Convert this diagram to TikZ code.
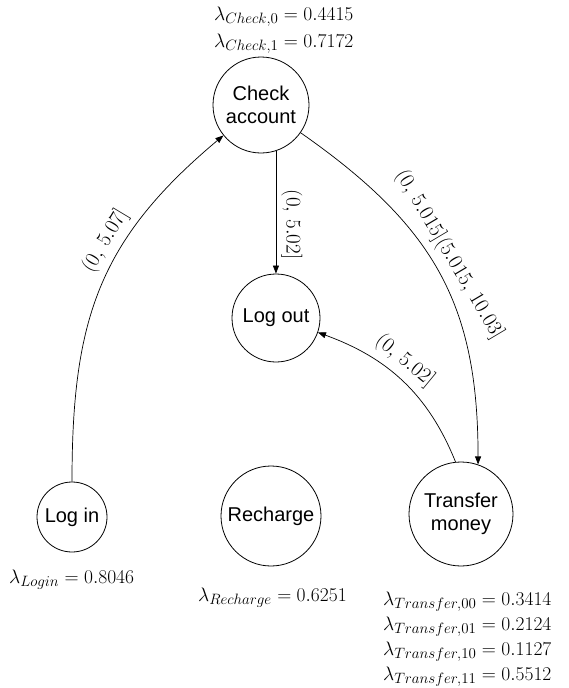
\RequirePackage{fix-cm}
\documentclass[tikz,border=0pt]{standalone}
\usepackage{fontspec}
\newfontfamily\hv{Liberation Sans}
\usetikzlibrary{arrows.meta}
\DeclareMathSizes{19.5}{19.5}{15}{11}
\DeclareMathSizes{21}{21}{15}{11}
\begin{document}
\begin{tikzpicture}[x=1pt,y=1pt,
  state/.style={circle,draw,line width=0.8pt,inner sep=0pt,align=center,
    font=\hv\fontsize{20}{23}\selectfont},
  lam/.style={inner sep=0pt,font=\fontsize{19.5}{22}\selectfont},
  elab/.style={sloped,inner sep=4pt,font=\fontsize{21}{24}\selectfont},
  arr/.style={-{Triangle[length=8pt,width=6pt]},line width=0.7pt}]
\useasboundingbox (0,0) rectangle (569,-688);
\node[state,minimum size=96pt] (check) at (261,-105) {Check\\account};
\node[state,minimum size=88pt] (logout) at (276,-318) {Log out};
\node[state,minimum size=70pt] (login) at (72,-517) {Log in};
\node[state,minimum size=100pt] (recharge) at (271,-516) {Recharge};
\node[state,minimum size=104pt] (transfer) at (461,-514) {Transfer\\money};
% lambda labels
\node[lam,anchor=base west] (lc0) at (214,-20) {$\lambda_{Check,0} = 0.4415$};
\node[lam,anchor=base west] (lc1) at (214,-47) {$\lambda_{Check,1} = 0.7172$};
\node[lam,anchor=base west] (ll) at (9,-583) {$\lambda_{Login} = 0.8046$};
\node[lam,anchor=base west] (lr) at (198,-601) {$\lambda_{Recharge} = 0.6251$};
\node[lam,anchor=base west] (lt0) at (383,-605) {$\lambda_{Transfer,00} = 0.3414$};
\node[lam,anchor=base west] (lt1) at (383,-630) {$\lambda_{Transfer,01} = 0.2124$};
\node[lam,anchor=base west] (lt2) at (383,-655) {$\lambda_{Transfer,10} = 0.1127$};
\node[lam,anchor=base west] (lt3) at (383,-680) {$\lambda_{Transfer,11} = 0.5512$};
% connectors
\draw[arr] (login.north) to[out=90,in=220,looseness=1.1]
  node[elab,above,pos=0.62,inner sep=6pt] {$(0,\, 5.07]$} (check.219);
\draw[arr] (check.-72) --
  node[elab,above,pos=0.6,inner sep=5pt] {$(0,\, 5.02]$} (check.-72 |- logout.north);
\draw[arr] (check.-35) to[out=-35,in=90,looseness=1.1]
  node[elab,above,pos=0.47,inner sep=7pt] {$(0,\, 5.015](5.015,\, 10.03]$} (transfer.71);
\draw[arr] (transfer.96) to[out=112,in=-20]
  node[elab,above,pos=0.56,inner sep=6pt] {$(0,\, 5.02]$} (logout.-19);
\end{tikzpicture}
\end{document}
